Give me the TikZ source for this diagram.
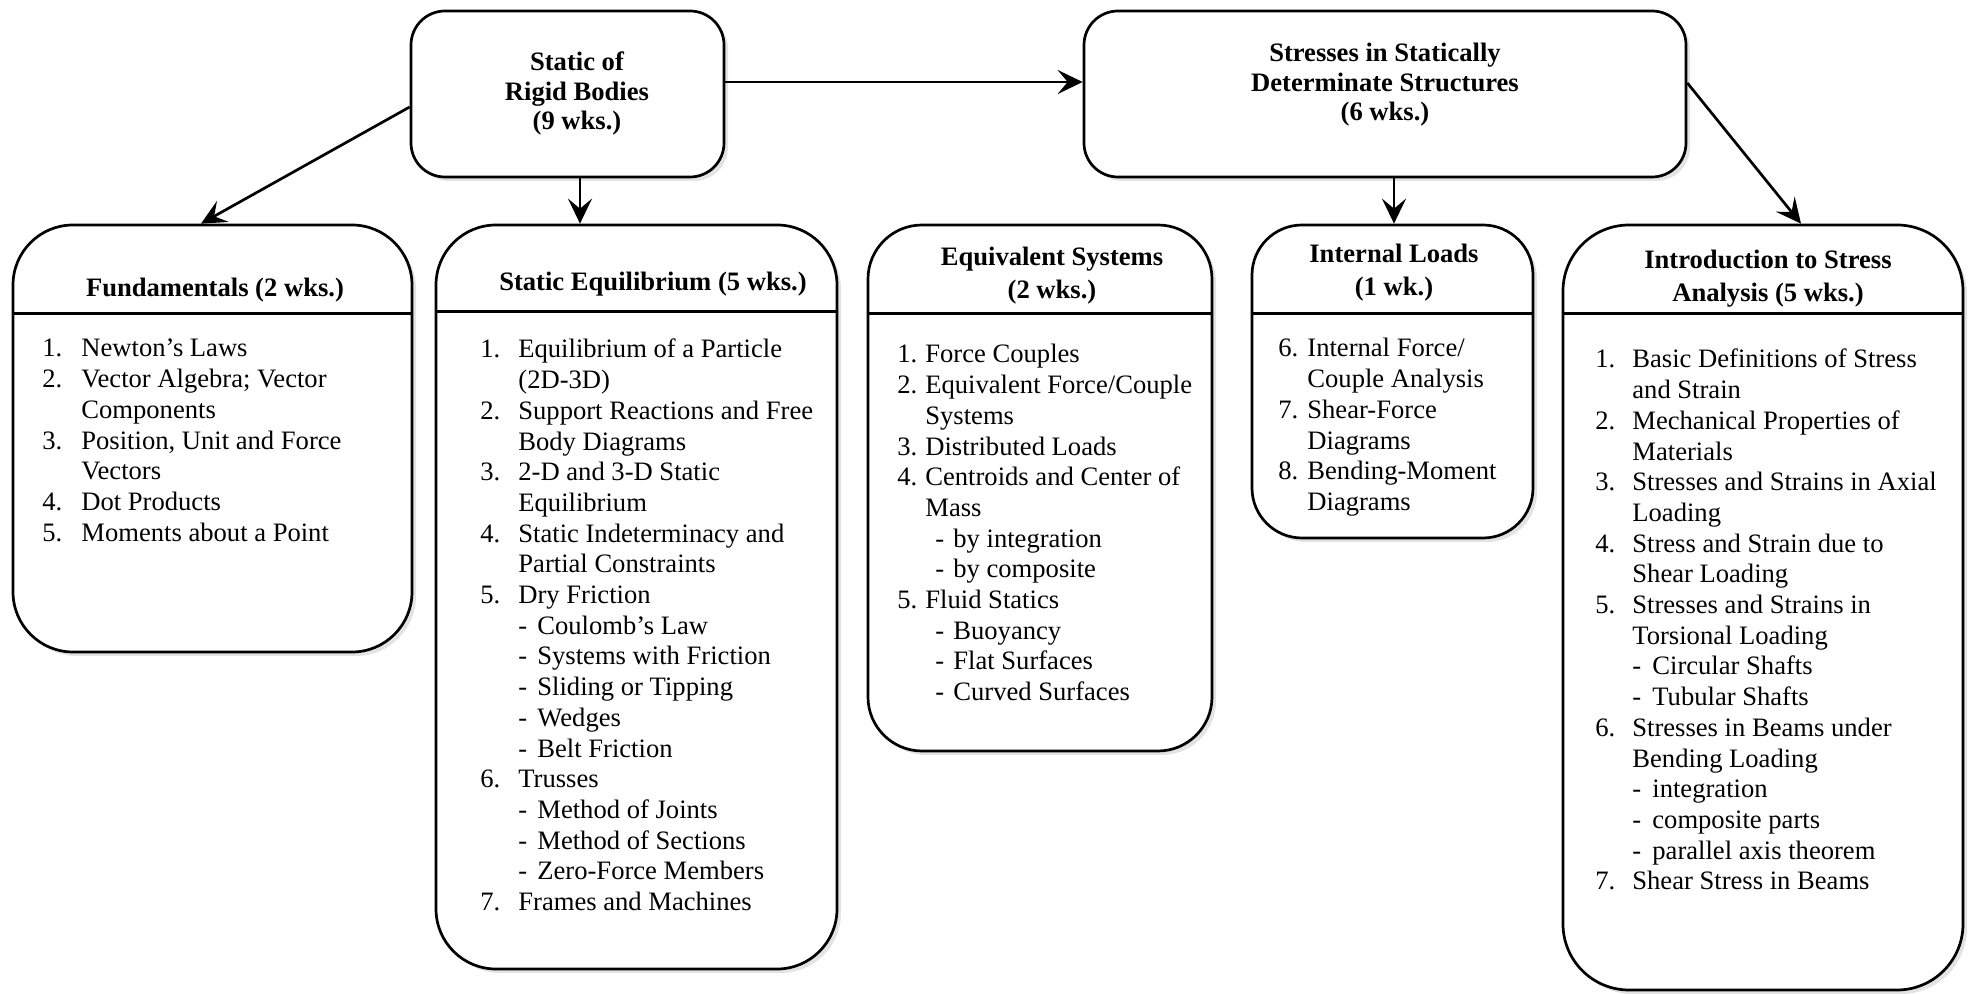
\documentclass[tikz,border=0pt]{standalone}
\usepackage{fontspec}
\setmainfont{Liberation Serif}
\usetikzlibrary{arrows.meta,shadows}
\newlength{\numw}\newlength{\subw}\newlength{\subo}
\newcommand{\nm}[1]{\makebox[\numw][l]{#1}}
\newcommand{\ct}{\hspace*{\numw}}
\newcommand{\sbi}{\hspace*{\numw}\hspace*{\subo}\makebox[\subw][l]{-}}
\newcommand{\listbody}[4]{\setlength{\numw}{#1}\setlength{\subo}{#2}\setlength{\subw}{#3}\parbox[t]{220pt}{\raggedright #4}}
\begin{document}
\begin{tikzpicture}[x=0.5pt,y=-0.5pt,
  box/.style={draw, line width=1.35pt, rounded corners=#1, fill=white,
    drop shadow={opacity=0.22,shadow xshift=2pt,shadow yshift=-2pt},
    inner sep=0pt},
  arr/.style={line width=1.35pt, -{Stealth[length=12.5pt,width=12pt,inset=5pt]}},
  divl/.style={line width=1.25pt},
  ttlt/.style={anchor=base, inner sep=0pt, font=\bfseries\fontsize{13.3}{14.75}\selectfont},
  ttl/.style={anchor=base, inner sep=0pt, font=\bfseries\fontsize{13.3}{16.5}\selectfont},
  lst/.style={anchor=base west, inner sep=0pt, font=\fontsize{13.3}{15.35}\selectfont}]
\useasboundingbox (0,0) rectangle (1972,994);

% top boxes
\node[box=17pt, minimum width=156.5pt, minimum height=83pt] (A) at (567.5,94) {};
\node[box=17pt, minimum width=301pt, minimum height=83pt] (B) at (1385,94) {};
\node[ttlt] (At) at (577,71) {\parbox[t]{150pt}{\centering Static of\\Rigid Bodies\\(9 wks.)}};
\node[ttlt] (Bt) at (1385,62) {\parbox[t]{280pt}{\centering Stresses in Statically\\Determinate Structures\\(6 wks.)}};

% lower boxes
\node[box=30pt, minimum width=199.5pt, minimum height=213.5pt] (F) at (212.5,438.5) {};
\node[box=30pt, minimum width=200.5pt, minimum height=372pt] (SE) at (636.5,597) {};
\node[box=27pt, minimum width=172pt, minimum height=263pt] (EQ) at (1040,488) {};
\node[box=25pt, minimum width=140.5pt, minimum height=156.5pt] (IL) at (1392.5,381.5) {};
\node[box=33pt, minimum width=200pt, minimum height=382.5pt] (IN) at (1763,607.5) {};

% dividers
\draw[divl] ([yshift=-45pt]F.north west) -- ([yshift=-45pt]F.north east);
\draw[divl] ([yshift=-44pt]SE.north west) -- ([yshift=-44pt]SE.north east);
\draw[divl] ([yshift=-45pt]EQ.north west) -- ([yshift=-45pt]EQ.north east);
\draw[divl] ([yshift=-45pt]IL.north west) -- ([yshift=-45pt]IL.north east);
\draw[divl] ([yshift=-45pt]IN.north west) -- ([yshift=-45pt]IN.north east);

% titles
\node[ttl] (Ft) at (215,297) {\parbox[t]{190pt}{\centering Fundamentals (2 wks.)}};
\node[ttl] (SEt) at (653,291) {\parbox[t]{190pt}{\centering Static Equilibrium (5 wks.)}};
\node[ttl] (EQt) at (1052,266) {\parbox[t]{165pt}{\centering Equivalent Systems\\(2 wks.)}};
\node[ttl] (ILt) at (1394,263) {\parbox[t]{135pt}{\centering Internal Loads\\(1 wk.)}};
\node[ttl] (INt) at (1768,269) {\parbox[t]{190pt}{\centering Introduction to Stress\\Analysis (5 wks.)}};

% lists
\node[lst] (Fl) at (42,357) {\listbody{19.5pt}{0pt}{9.5pt}{%
\nm{1.}Newton’s Laws\\
\nm{2.}Vector Algebra; Vector\\
\ct Components\\
\nm{3.}Position, Unit and Force\\
\ct Vectors\\
\nm{4.}Dot Products\\
\nm{5.}Moments about a Point}};

\node[lst] (SEl) at (480,358) {\listbody{19pt}{0pt}{9.5pt}{%
\nm{1.}Equilibrium of a Particle\\
\ct (2D-3D)\\
\nm{2.}Support Reactions and Free\\
\ct Body Diagrams\\
\nm{3.}2-D and 3-D Static\\
\ct Equilibrium\\
\nm{4.}Static Indeterminacy and\\
\ct Partial Constraints\\
\nm{5.}Dry Friction\\
\sbi Coulomb’s Law\\
\sbi Systems with Friction\\
\sbi Sliding or Tipping\\
\sbi Wedges\\
\sbi Belt Friction\\
\nm{6.}Trusses\\
\sbi Method of Joints\\
\sbi Method of Sections\\
\sbi Zero-Force Members\\
\nm{7.}Frames and Machines}};

\node[lst] (EQl) at (897,363) {\listbody{14pt}{5pt}{9pt}{%
\nm{1.}Force Couples\\
\nm{2.}Equivalent Force/Couple\\
\ct Systems\\
\nm{3.}Distributed Loads\\
\nm{4.}Centroids and Center of\\
\ct Mass\\
\sbi by integration\\
\sbi by composite\\
\nm{5.}Fluid Statics\\
\sbi Buoyancy\\
\sbi Flat Surfaces\\
\sbi Curved Surfaces}};

\node[lst] (ILl) at (1278,357) {\listbody{14.5pt}{0pt}{9pt}{%
\nm{6.}Internal Force/\\
\ct Couple Analysis\\
\nm{7.}Shear-Force\\
\ct Diagrams\\
\nm{8.}Bending-Moment\\
\ct Diagrams}};

\node[lst] (INl) at (1595,368) {\listbody{18.5pt}{0pt}{10pt}{%
\nm{1.}Basic Definitions of Stress\\
\ct and Strain\\
\nm{2.}Mechanical Properties of\\
\ct Materials\\
\nm{3.}Stresses and Strains in Axial\\
\ct Loading\\
\nm{4.}Stress and Strain due to\\
\ct Shear Loading\\
\nm{5.}Stresses and Strains in\\
\ct Torsional Loading\\
\sbi Circular Shafts\\
\sbi Tubular Shafts\\
\nm{6.}Stresses in Beams under\\
\ct Bending Loading\\
\sbi integration\\
\sbi composite parts\\
\sbi parallel axis theorem\\
\nm{7.}Shear Stress in Beams}};

% connectors
\draw[arr] ([yshift=6pt]A.east) -- ([yshift=6pt]B.west);
\draw[arr] ([yshift=-6.5pt]A.west) -- ([xshift=-5.75pt]F.north);
\draw[arr] ([xshift=6.25pt]A.south) -- ([xshift=6.25pt]A.south |- SE.north);
\draw[arr] ([xshift=4.5pt]B.south) -- ([xshift=4.5pt]B.south |- IL.north);
\draw[arr] ([yshift=5.5pt]B.east) -- ([xshift=19pt]IN.north);
\end{tikzpicture}
\end{document}
